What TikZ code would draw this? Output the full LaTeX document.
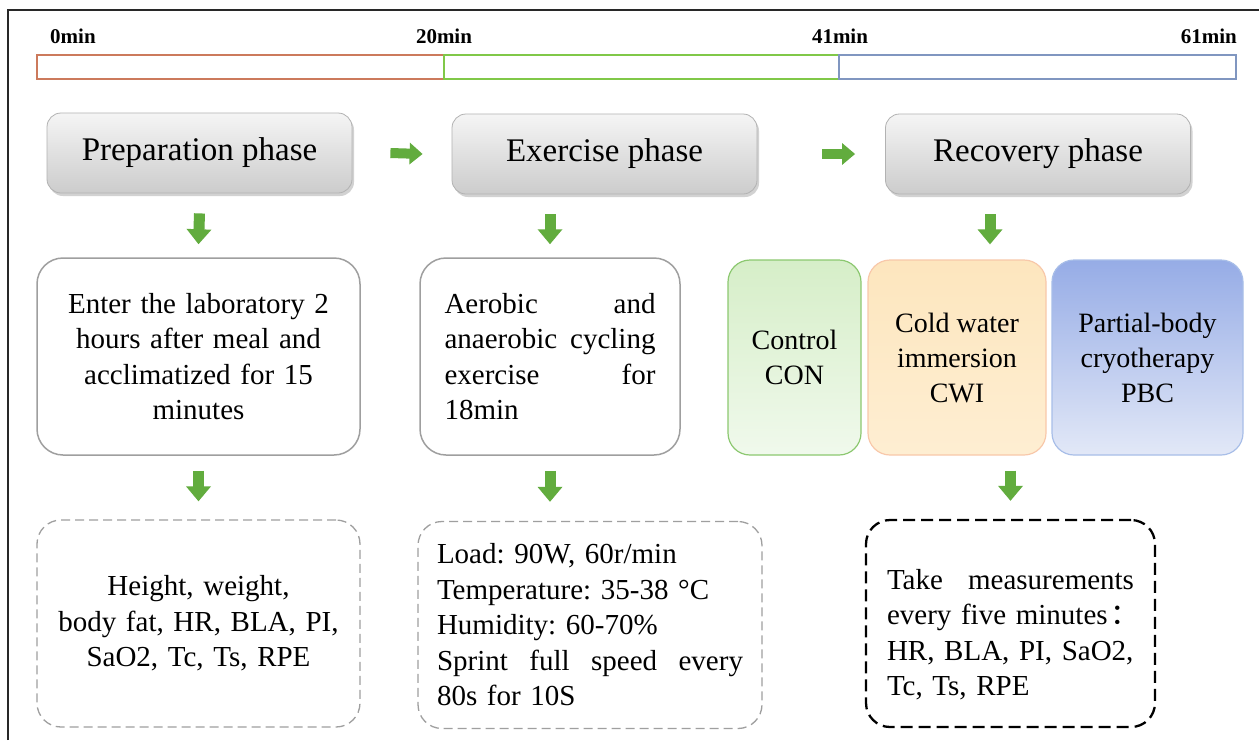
\documentclass[tikz,border=0pt]{standalone}
\usepackage{fontspec}
\setmainfont{Liberation Serif}
\newfontfamily\cjk{Noto Sans CJK SC}
\usetikzlibrary{arrows.meta,shadows,calc}
\frenchspacing
\newcommand\jline[2]{\leavevmode\hbox to #1{#2}}
\definecolor{arrowgreen}{RGB}{98,172,62}
\definecolor{barorange}{RGB}{204,122,92}
\definecolor{bargreen}{RGB}{128,200,72}
\definecolor{barblue}{RGB}{128,150,192}
\definecolor{frameline}{RGB}{40,40,40}
\definecolor{conborder}{RGB}{140,200,112}
\definecolor{contop}{RGB}{214,238,200}
\definecolor{conbot}{RGB}{240,249,236}
\definecolor{cwiborder}{RGB}{248,200,170}
\definecolor{cwitop}{RGB}{253,230,190}
\definecolor{cwibot}{RGB}{254,238,210}
\definecolor{pbcborder}{RGB}{168,190,232}
\definecolor{pbctop}{RGB}{150,172,230}
\definecolor{pbcbot}{RGB}{226,232,247}
\begin{document}
\begin{tikzpicture}[x=1pt,y=-1pt,
  phase/.style={draw=gray!60, line width=0.8pt, rounded corners=14pt,
    top color=gray!8, bottom color=gray!40, minimum width=305pt,
    minimum height=80pt, inner sep=0pt, font=\fontsize{33}{38}\selectfont,
    drop shadow={shadow xshift=2pt, shadow yshift=-3pt, opacity=0.35}},
  seg/.style={line width=1.5pt, minimum height=24pt, inner sep=0pt},
  tlabel/.style={font=\fontsize{21}{24}\selectfont\bfseries, inner sep=0pt},
  body/.style={font=\fontsize{29}{35.5}\selectfont, inner sep=0pt},
  solidbox/.style={body, draw=gray!75, line width=1.5pt, rounded corners=26pt, minimum height=197pt},
  groupbox/.style={font=\fontsize{28}{35}\selectfont, inner sep=0pt, line width=1.2pt,
    rounded corners=22pt, minimum height=195pt, align=center, shading angle=45},
  dashbox/.style={body, draw=gray!75, line width=1.3pt, dash pattern=on 9pt off 5pt,
    rounded corners=24pt, minimum height=207pt},
  blackdash/.style={body, draw=black, line width=2.3pt, dash pattern=on 12pt off 6pt,
    rounded corners=24pt, minimum height=207pt},
  darr/.style={draw=arrowgreen, line width=11pt, -{Triangle[width=24pt,length=15pt]}},
  harr/.style={draw=arrowgreen, line width=10pt, -{Triangle[width=21pt,length=13pt]}}
]
\useasboundingbox (0,0) rectangle (1259,740);
\fill[white] (0,0) rectangle (1259,740);
% frame
\draw[frameline, line width=1.5pt] (8,740) -- (8,10) -- (1259,10);

% timeline
\node[seg, draw=barorange, minimum width=407pt] (s1) at (240.5,67) {};
\node[seg, draw=bargreen, minimum width=395pt] (s2) at (641.5,67) {};
\node[seg, draw=barblue, minimum width=397pt] (s3) at (1037.5,67) {};
\node[tlabel, anchor=base west] (t0) at (50,43) {0min};
\node[tlabel, anchor=base] (t20) at (444,43) {20min};
\node[tlabel, anchor=base] (t41) at (840,43) {41min};
\node[tlabel, anchor=base east] (t61) at (1237,43) {61min};

% phases
\node[phase] (prep) at (199.5,153) {Preparation phase};
\node[phase] (exer) at (604.5,154) {Exercise phase};
\node[phase] (recov) at (1038,154) {Recovery phase};

% second row
\node[solidbox, minimum width=323pt, text width=300pt, align=center] (enter) at (198.5,356.5)
  {Enter the laboratory 2\\hours after meal and\\acclimatized for 15\\minutes};
\node[solidbox, minimum width=260pt, text width=211pt, align=left] (aero) at (550,356.5)
  {\jline{211pt}{Aerobic\hfill and}\\\jline{211pt}{anaerobic\hfill cycling}\\\jline{211pt}{exercise\hfill for}\\18min};
\node[groupbox, draw=conborder, top color=contop, bottom color=conbot, minimum width=133pt] (con) at (794.5,357.5)
  {Control\\CON};
\node[groupbox, draw=cwiborder, top color=cwitop, bottom color=cwibot, minimum width=178pt] (cwi) at (957,357.5)
  {Cold water\\immersion\\CWI};
\node[groupbox, draw=pbcborder, top color=pbctop, bottom color=pbcbot, minimum width=191pt] (pbc) at (1147.5,357.5)
  {Partial-body\\cryotherapy\\PBC};

% third row
\node[dashbox, minimum width=323pt, text width=300pt, align=center] (meas1) at (198.5,623.5)
  {Height, weight,\\body fat, HR, BLA, PI,\\SaO2, Tc, Ts, RPE};
\node[dashbox, minimum width=344pt, text width=306pt, align=left] (meas2) at (590,625)
  {Load: 90W, 60r/min\\Temperature: 35-38 °C\\Humidity: 60-70\%\\\jline{306pt}{Sprint\hfill full\hfill speed\hfill every}\\80s for 10S};
\node[blackdash, minimum width=289pt, text width=247pt, align=left] (meas3) at (1010.5,623.5)
  {\rule{0pt}{42pt}\jline{247pt}{Take\hfill measurements}\\\jline{247pt}{every five minutes\kern0.1em\hbox to 0.55em{{\cjk ：}\hss}\hss}\\HR, BLA, PI, SaO2,\\Tc, Ts, RPE};

% arrows
\draw[harr] ([xshift=38pt]prep.east) -- ([xshift=-29pt]exer.west);
\draw[harr] ([xshift=65pt]exer.east) -- ([xshift=-30pt]recov.west);
\draw[darr] ([yshift=-20pt]prep.south) -- ([yshift=13pt]enter.north);
\draw[darr] ([yshift=-20pt]exer.south -| aero.north) -- ([yshift=13pt]aero.north);
\draw[darr] ([xshift=-48pt,yshift=-20pt]recov.south) -- ([xshift=-48pt,yshift=15pt]recov.south |- cwi.north);
\draw[darr] ([yshift=-15pt]enter.south) -- ([yshift=18pt]meas1.north);
\draw[darr] ([yshift=-15pt]aero.south) -- ([yshift=19pt]aero.south |- meas2.north);
\draw[darr] ([yshift=-15pt]cwi.south -| meas3.north) -- ([yshift=18pt]meas3.north);
\end{tikzpicture}
\end{document}
